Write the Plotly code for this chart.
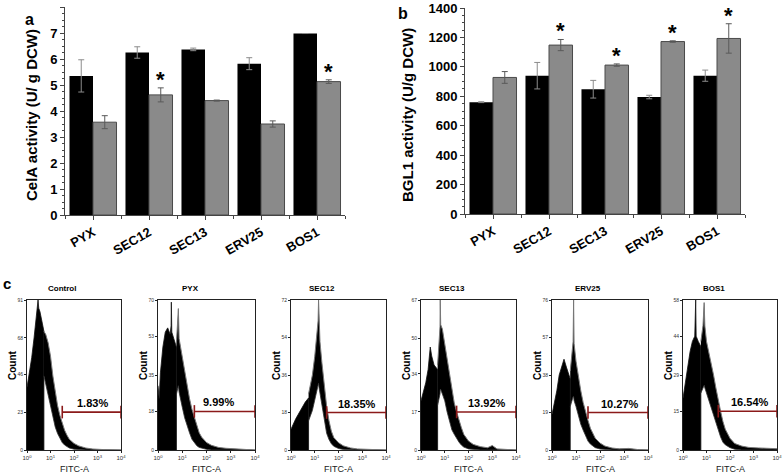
import plotly.graph_objects as go

W, H = 784, 476
FONT = "Arial, Liberation Sans, sans-serif"

# ---------------- data: panel a / b ----------------
categories = ["PYX", "SEC12", "SEC13", "ERV25", "BOS1"]
cela_black = [5.35, 6.25, 6.37, 5.82, 6.98]
cela_black_err = [0.62, 0.22, 0.05, 0.23, 0.0]
cela_gray = [3.57, 4.62, 4.40, 3.50, 5.13]
cela_gray_err = [0.25, 0.27, 0.02, 0.12, 0.07]
cela_star = [False, True, False, False, True]

bgl_black = [760, 940, 848, 795, 940]
bgl_black_err = [3, 90, 60, 12, 38]
bgl_gray = [928, 1148, 1012, 1172, 1193]
bgl_gray_err = [40, 38, 8, 5, 100]
bgl_star = [False, True, True, True, True]

# ---------------- data: panel c (flow histograms, log10 FITC-A positions) ----------------
hist_titles = ["Control", "PYX", "SEC12", "SEC13", "ERV25", "BOS1"]
hist_max = [91, 70, 72, 67, 76, 58]
hist_ticks = [[0, 23, 46, 68, 91], [0, 18, 35, 53, 70], [0, 18, 36, 54, 72],
              [0, 17, 34, 50, 67], [0, 19, 38, 57, 76], [0, 15, 29, 44, 58]]
hist_pct = ["1.83%", "9.99%", "18.35%", "13.92%", "10.27%", "16.54%"]
hist_gate = [23, 18, 18, 17, 19, 15]
hist_pct_pos = [2.78, 2.5, 2.78, 2.78, 2.83, 2.83]

ctrl_left_lx = [0, 0.1, 0.2, 0.3, 0.4, 0.47, 0.5, 0.55, 0.65, 0.72]
ctrl_left_y = [38, 46, 56, 68, 80, 91, 86, 84, 77, 72]
ctrl_right_lx = [0.72, 0.8, 0.9, 1.0, 1.1, 1.2, 1.3, 1.4, 1.5, 1.6, 1.7, 1.8, 2.0, 2.2, 2.5, 2.8, 3.2, 3.6, 4.0]
ctrl_hi = [72, 70, 65, 57, 45, 35, 27, 21, 16, 12, 9, 6.5, 4, 2.5, 1.2, 0.6, 0.3, 0.1, 0]
ctrl_lo = [45, 40, 34, 27, 20, 14, 10, 7, 4.5, 3, 2, 1.2, 0.5, 0.2, 0, 0, 0, 0, 0]

pyx_left_lx = [0, 0.05, 0.1, 0.2, 0.3, 0.4, 0.5, 0.54, 0.55, 0.57, 0.65, 0.76]
pyx_left_y = [30, 24, 36, 48, 55, 57, 54, 58, 69, 55, 52, 48]
pyx_right_lx = [0.76, 0.8, 0.84, 0.87, 0.9, 1.0, 1.1, 1.2, 1.3, 1.4, 1.5, 1.6, 1.7, 1.8, 2.0, 2.2, 2.5, 2.8, 3.2, 3.6, 4.0]
pyx_hi = [50, 56, 66, 52, 50, 44, 37, 30, 24, 19, 15, 11, 8, 6, 3.5, 2.2, 1.2, 0.8, 0.5, 0.3, 0]
pyx_lo = [26, 28, 30, 27, 25, 20, 15, 11, 8, 5, 3.5, 2, 1.2, 0.8, 0.3, 0, 0, 0, 0, 0, 0]

sec12_left_lx = [0, 0.1, 0.2, 0.3, 0.4, 0.5, 0.6, 0.74]
sec12_left_y = [10, 13, 15, 17, 19, 21, 23, 25]
sec12_right_lx = [0.74, 0.8, 0.9, 1.0, 1.05, 1.1, 1.14, 1.16, 1.18, 1.22, 1.3, 1.4, 1.5, 1.6, 1.7, 1.8, 2.0, 2.2, 2.5, 2.8, 3.2, 3.6, 4.0]
sec12_hi = [27, 30, 36, 45, 52, 58, 62, 72, 58, 52, 42, 31, 21, 14, 9, 6, 3.5, 2, 1, 0.5, 0.3, 0.1, 0]
sec12_lo = [14, 16, 19, 24, 27, 30, 32, 32, 30, 27, 21, 14, 8, 5, 3, 1.8, 0.7, 0.3, 0, 0, 0, 0, 0]

sec13_left_lx = [0, 0.1, 0.2, 0.3, 0.39, 0.45, 0.55, 0.7]
sec13_left_y = [22, 26, 30, 36, 46, 42, 38, 36]
sec13_right_lx = [0.7, 0.75, 0.8, 0.81, 0.83, 0.9, 1.0, 1.1, 1.2, 1.3, 1.4, 1.5, 1.6, 1.7, 1.8, 2.0, 2.2, 2.5, 2.8, 3.0, 3.2, 3.6, 4.0]
sec13_hi = [38, 46, 55, 67, 56, 54, 47, 40, 33, 26, 21, 17, 13, 10, 7, 4, 2.5, 1.5, 1, 2, 0.5, 0.3, 0]
sec13_lo = [20, 22, 25, 27, 27, 25, 22, 17, 13, 9, 7, 5, 3.5, 2.2, 1.3, 0.5, 0.2, 0, 0, 0, 0, 0, 0]

erv_left_lx = [0, 0.1, 0.2, 0.3, 0.4, 0.5, 0.6, 0.76]
erv_left_y = [18, 24, 30, 38, 42, 46, 42, 36]
erv_right_lx = [0.76, 0.82, 0.88, 0.9, 0.92, 1.0, 1.1, 1.2, 1.3, 1.4, 1.5, 1.6, 1.7, 1.8, 2.0, 2.2, 2.5, 2.8, 3.2, 3.6, 4.0]
erv_hi = [40, 50, 55, 76, 54, 45, 37, 30, 24, 19, 15, 11, 8, 6, 3.5, 2, 1, 0.6, 0.8, 0.2, 0]
erv_lo = [22, 25, 27, 27, 25, 22, 17, 13, 10, 7, 4.5, 3, 2, 1.2, 0.5, 0.2, 0, 0, 0, 0, 0]

bos_left_lx = [0, 0.1, 0.2, 0.3, 0.4, 0.5, 0.54, 0.56, 0.65, 0.76]
bos_left_y = [20, 26, 33, 38, 42, 44, 58, 44, 42, 40]
bos_right_lx = [0.76, 0.85, 0.9, 0.93, 1.0, 1.1, 1.2, 1.3, 1.4, 1.5, 1.6, 1.7, 1.8, 2.0, 2.2, 2.5, 2.8, 3.2, 3.6, 4.0]
bos_hi = [42, 48, 57, 48, 42, 38, 34, 29, 24, 19, 15, 11, 8, 4.5, 2.5, 1.5, 1, 0.8, 0.6, 0.5]
bos_lo = [22, 24, 25, 24, 22, 19, 16, 13, 10, 7, 5, 3, 2, 0.9, 0.3, 0, 0, 0, 0, 0]

hist_data = [
    (ctrl_left_lx, ctrl_left_y, ctrl_right_lx, ctrl_hi, ctrl_lo),
    (pyx_left_lx, pyx_left_y, pyx_right_lx, pyx_hi, pyx_lo),
    (sec12_left_lx, sec12_left_y, sec12_right_lx, sec12_hi, sec12_lo),
    (sec13_left_lx, sec13_left_y, sec13_right_lx, sec13_hi, sec13_lo),
    (erv_left_lx, erv_left_y, erv_right_lx, erv_hi, erv_lo),
    (bos_left_lx, bos_left_y, bos_right_lx, bos_hi, bos_lo),
]

# ---------------- layout helpers (pixel -> paper) ----------------
def px(x):
    return x / W

def py(y):
    return 1 - y / H

def label(x, y, text, size, angle=0, color="black"):
    return dict(x=px(x), y=py(y), xref="paper", yref="paper", text=text, textangle=angle, showarrow=False,
                xanchor="center", yanchor="middle", font=dict(family=FONT, size=size, color=color))

fig = go.Figure()
xs = list(range(len(categories)))
BW = 0.42

def add_bars(xa, ya, black, black_err, gray, gray_err):
    fig.add_trace(go.Bar(x=xs, y=black, width=BW, offset=-BW, marker=dict(color="#000000", line=dict(width=0)),
                         error_y=dict(type="data", array=black_err, color="#8c8c8c", thickness=1, width=3),
                         xaxis=xa, yaxis=ya, showlegend=False))
    fig.add_trace(go.Bar(x=xs, y=gray, width=BW, offset=0, marker=dict(color="#8a8a8a", line=dict(color="#4a4a4a", width=1)),
                         error_y=dict(type="data", array=gray_err, color="#5a5a5a", thickness=1, width=3),
                         xaxis=xa, yaxis=ya, showlegend=False))

add_bars("x", "y", cela_black, cela_black_err, cela_gray, cela_gray_err)
add_bars("x2", "y2", bgl_black, bgl_black_err, bgl_gray, bgl_gray_err)

annotations = []
for i, s in enumerate(cela_star):
    if s:
        annotations.append(dict(x=i + BW / 2, y=cela_gray[i] + cela_gray_err[i], xref="x", yref="y", text="<b>*</b>",
                                showarrow=False, xanchor="center", yanchor="bottom", yshift=-6,
                                font=dict(family=FONT, size=22, color="black")))
for i, s in enumerate(bgl_star):
    if s:
        annotations.append(dict(x=i + BW / 2, y=bgl_gray[i] + bgl_gray_err[i], xref="x2", yref="y2", text="<b>*</b>",
                                showarrow=False, xanchor="center", yanchor="bottom", yshift=-6,
                                font=dict(family=FONT, size=22, color="black")))

bar_x_common = dict(range=[-0.5, 4.5], tickmode="array", tickvals=xs, ticktext=[f"<b>{c}</b>" for c in categories],
                    tickangle=-30, ticks="outside", ticklen=4, tickcolor="#444", showline=True, linecolor="#444",
                    linewidth=1, tickfont=dict(family=FONT, size=13, color="black"), showgrid=False, zeroline=False,
                    minor=dict(tickmode="array", tickvals=[-0.5, 0.5, 1.5, 2.5, 3.5, 4.5], ticks="outside", ticklen=3, tickcolor="#444"))
bar_y_common = dict(ticks="outside", ticklen=4, tickcolor="#444", showline=True, linecolor="#444", linewidth=1,
                    tickfont=dict(family=FONT, size=13, color="black"), showgrid=False, zeroline=False)

layout = dict(
    template="none",
    width=W, height=H, margin=dict(l=0, r=0, t=0, b=0), paper_bgcolor="white", plot_bgcolor="white",
    barmode="overlay", showlegend=False, font=dict(family=FONT, color="black"),
    xaxis=dict(domain=[px(65), px(345)], anchor="y", **bar_x_common),
    yaxis=dict(domain=[py(215), py(7)], anchor="x", range=[0, 8],
               tickmode="array", tickvals=list(range(0, 9)), ticktext=[f"<b>{v}</b>" for v in range(0, 9)],
               minor=dict(dtick=0.25, ticks="outside", ticklen=2, tickcolor="#444"), **bar_y_common),
    xaxis2=dict(domain=[px(465), px(745)], anchor="y2", **bar_x_common),
    yaxis2=dict(domain=[py(214), py(8)], anchor="x2", range=[0, 1400],
                tickmode="array", tickvals=list(range(0, 1401, 200)), ticktext=[f"<b>{v}</b>" for v in range(0, 1401, 200)],
                minor=dict(dtick=50, ticks="outside", ticklen=2, tickcolor="#444"), **bar_y_common),
)

annotations.append(label(31, 115, "<b>CelA activity (U/ g DCW)</b>", 15, angle=-90))
annotations.append(label(407, 115, "<b>BGL1 activity (U/g DCW)</b>", 15, angle=-90))

# ---------------- histograms ----------------
frames = [(27, 121), (158, 255), (291, 386), (421, 516), (552, 648), (683, 777)]
title_x = [62, 190, 322, 452, 588, 714]
HT, HB = 300, 450
GATE_COLOR = "#8b1a1a"

for k in range(6):
    n = k + 3
    xa, ya = f"x{n}", f"y{n}"
    llx, ly, rlx, hi, lo = hist_data[k]
    fig.add_trace(go.Scatter(x=[10 ** v for v in llx] + [10 ** llx[-1]], y=ly + [0], mode="lines",
                             line=dict(color="#111", width=0.8), fill="tozeroy", fillcolor="black",
                             xaxis=xa, yaxis=ya, hoverinfo="skip"))
    fig.add_trace(go.Scatter(x=[10 ** v for v in rlx], y=lo, mode="lines", line=dict(color="#333", width=0.8),
                             xaxis=xa, yaxis=ya, hoverinfo="skip"))
    fig.add_trace(go.Scatter(x=[10 ** v for v in rlx], y=hi, mode="lines", line=dict(color="#777", width=1),
                             fill="tonexty", fillcolor="black", xaxis=xa, yaxis=ya, hoverinfo="skip"))
    fig.add_trace(go.Scatter(x=[10 ** 1.5, 10 ** 4], y=[hist_gate[k], hist_gate[k]], mode="lines+markers",
                             line=dict(color=GATE_COLOR, width=1.6),
                             marker=dict(symbol="line-ns-open", size=9, line=dict(color=GATE_COLOR, width=1.6)),
                             xaxis=xa, yaxis=ya, hoverinfo="skip", cliponaxis=False))
    x0, x1 = frames[k]
    layout[f"xaxis{n}"] = dict(domain=[px(x0), px(x1)], anchor=ya, type="log", range=[0, 4],
                               tickmode="array", tickvals=[1, 10, 100, 1000, 10000],
                               ticktext=[f"10<sup>{e}</sup>" for e in range(5)],
                               tickfont=dict(family=FONT, size=6, color="#333"), ticks="outside", ticklen=2,
                               tickcolor="#222", showline=True, mirror=True, linecolor="#222", linewidth=1,
                               showgrid=False, zeroline=False)
    layout[f"yaxis{n}"] = dict(domain=[py(HB), py(HT)], anchor=xa, range=[0, hist_max[k]],
                               tickmode="array", tickvals=hist_ticks[k], ticktext=[str(t) for t in hist_ticks[k]],
                               tickfont=dict(family=FONT, size=5, color="#333"), ticks="outside", ticklen=2,
                               tickcolor="#222", showline=True, mirror=True, linecolor="#222", linewidth=1,
                               showgrid=False, zeroline=False)
    annotations.append(label(title_x[k], 288, f"<b>{hist_titles[k]}</b>", 8))
    annotations.append(label(x0 - 15, 365, "<b>Count</b>", 10, angle=-90))
    annotations.append(label((x0 + x1) / 2, 469, "FITC-A", 9, color="#222"))
    annotations.append(dict(x=hist_pct_pos[k], y=hist_gate[k], xref=xa, yref=ya, text=f"<b>{hist_pct[k]}</b>",
                            showarrow=False, xanchor="center", yanchor="bottom", yshift=1,
                            font=dict(family=FONT, size=11, color="black")))

annotations.append(label(29, 20, "<b>a</b>", 16))
annotations.append(label(403, 13, "<b>b</b>", 16))
annotations.append(label(7, 283, "<b>c</b>", 15))

layout["annotations"] = annotations
fig.update_layout(**layout)
fig.write_html("out.html", config={"displayModeBar": False},
               post_script="document.body.style.margin='0px';")
